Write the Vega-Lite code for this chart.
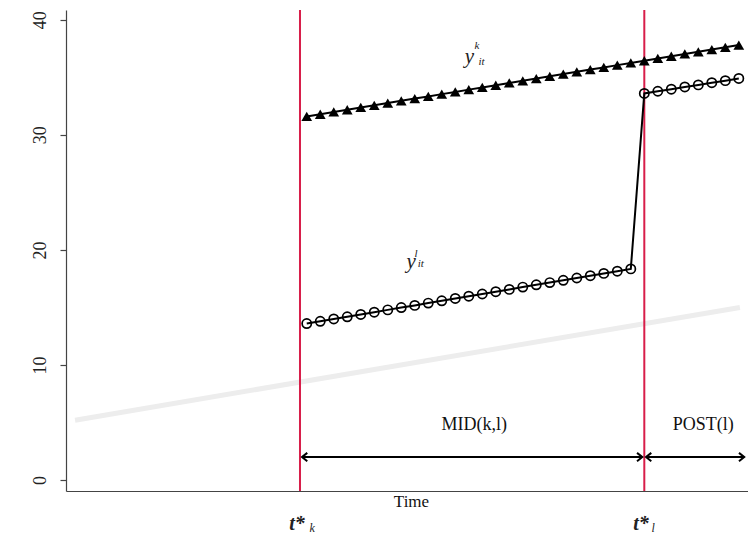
{
  "$schema": "https://vega.github.io/schema/vega-lite/v6.json",
  "width": 682,
  "height": 481,
  "autosize": {"type": "none"},
  "padding": {"left": 66, "top": 10, "right": 0, "bottom": 43},
  "background": "white",
  "config": {"view": {"stroke": null}, "font": "Liberation Serif"},
  "datasets": {
    "k": [
      {"t": 0, "y": 31.6}, {"t": 1, "y": 31.79}, {"t": 2, "y": 31.99}, {"t": 3, "y": 32.18}, {"t": 4, "y": 32.38},
      {"t": 5, "y": 32.57}, {"t": 6, "y": 32.76}, {"t": 7, "y": 32.96}, {"t": 8, "y": 33.15}, {"t": 9, "y": 33.34},
      {"t": 10, "y": 33.54}, {"t": 11, "y": 33.73}, {"t": 12, "y": 33.93}, {"t": 13, "y": 34.12}, {"t": 14, "y": 34.31},
      {"t": 15, "y": 34.51}, {"t": 16, "y": 34.7}, {"t": 17, "y": 34.89}, {"t": 18, "y": 35.09}, {"t": 19, "y": 35.28},
      {"t": 20, "y": 35.48}, {"t": 21, "y": 35.67}, {"t": 22, "y": 35.86}, {"t": 23, "y": 36.06}, {"t": 24, "y": 36.25},
      {"t": 25, "y": 36.44}, {"t": 26, "y": 36.64}, {"t": 27, "y": 36.83}, {"t": 28, "y": 37.03}, {"t": 29, "y": 37.22},
      {"t": 30, "y": 37.41}, {"t": 31, "y": 37.61}, {"t": 32, "y": 37.8}
    ],
    "l": [
      {"t": 0, "y": 13.6}, {"t": 1, "y": 13.8}, {"t": 2, "y": 14.0}, {"t": 3, "y": 14.19}, {"t": 4, "y": 14.39},
      {"t": 5, "y": 14.59}, {"t": 6, "y": 14.79}, {"t": 7, "y": 14.99}, {"t": 8, "y": 15.18}, {"t": 9, "y": 15.38},
      {"t": 10, "y": 15.58}, {"t": 11, "y": 15.78}, {"t": 12, "y": 15.98}, {"t": 13, "y": 16.17}, {"t": 14, "y": 16.37},
      {"t": 15, "y": 16.57}, {"t": 16, "y": 16.77}, {"t": 17, "y": 16.97}, {"t": 18, "y": 17.16}, {"t": 19, "y": 17.36},
      {"t": 20, "y": 17.56}, {"t": 21, "y": 17.76}, {"t": 22, "y": 17.96}, {"t": 23, "y": 18.15}, {"t": 24, "y": 18.35},
      {"t": 25, "y": 33.6}, {"t": 26, "y": 33.79}, {"t": 27, "y": 33.97}, {"t": 28, "y": 34.16}, {"t": 29, "y": 34.34},
      {"t": 30, "y": 34.53}, {"t": 31, "y": 34.71}, {"t": 32, "y": 34.9}
    ]
  },
  "encoding": {
    "x": {"field": "t", "type": "quantitative", "scale": {"domain": [-17.83, 32.68], "nice": false, "zero": false},
      "axis": {"title": "Time", "labels": false, "ticks": false, "grid": false, "domainColor": "#444", "domainWidth": 1.2,
        "titleFont": "Liberation Serif", "titleFontSize": 17, "titleFontWeight": "normal", "titleColor": "#111", "titlePadding": 2, "titleX": 345}},
    "y": {"field": "y", "type": "quantitative", "scale": {"domain": [-0.95, 40.85], "nice": false, "zero": false},
      "axis": {"title": null, "values": [0, 10, 20, 30, 40], "grid": false, "domainColor": "#444", "domainWidth": 1.2,
        "tickColor": "#444", "tickSize": 6, "tickWidth": 1.2, "labelAngle": -90, "labelAlign": "center", "labelBaseline": "bottom",
        "labelPadding": 11, "labelFont": "Liberation Serif", "labelFontSize": 18, "labelColor": "#222"}}
  },
  "layer": [
    {
      "data": {"values": [{"t": -17.16, "y": 5.2}, {"t": 32.08, "y": 15.0}]},
      "mark": {"type": "line", "color": "#ededed", "strokeWidth": 5}
    },
    {
      "data": {"values": [{"t": -0.5}, {"t": 25.0}]},
      "mark": {"type": "rule", "color": "#d81e4a", "strokeWidth": 2},
      "encoding": {"x": {"field": "t", "type": "quantitative"}, "y": null}
    },
    {
      "data": {"name": "k"},
      "mark": {"type": "line", "color": "black", "strokeWidth": 2}
    },
    {
      "data": {"name": "l"},
      "mark": {"type": "line", "color": "black", "strokeWidth": 2}
    },
    {
      "data": {"name": "k"},
      "mark": {"type": "point", "shape": "triangle-up", "filled": true, "color": "black", "size": 115, "opacity": 1}
    },
    {
      "data": {"name": "l"},
      "mark": {"type": "point", "shape": "circle", "filled": false, "color": "black", "strokeWidth": 1.7, "size": 85, "opacity": 1}
    },
    {
      "data": {"values": [{"t": -0.35, "t2": 24.85, "y": 2.0}, {"t": 25.13, "t2": 32.4, "y": 2.0}]},
      "mark": {"type": "rule", "color": "black", "strokeWidth": 2},
      "encoding": {"x": {"field": "t", "type": "quantitative"}, "x2": {"field": "t2"}, "y": {"field": "y", "type": "quantitative"}}
    },
    {
      "data": {"values": [{"t": -0.35, "y": 2.0}, {"t": 25.13, "y": 2.0}]},
      "mark": {"type": "point", "shape": "M1,-0.8L0,0L1,0.8", "filled": false, "color": "black", "strokeWidth": 2, "size": 110, "opacity": 1}
    },
    {
      "data": {"values": [{"t": 24.85, "y": 2.0}, {"t": 32.4, "y": 2.0}]},
      "mark": {"type": "point", "shape": "M-1,-0.8L0,0L-1,0.8", "filled": false, "color": "black", "strokeWidth": 2, "size": 110, "opacity": 1}
    },
    {
      "data": {"values": [{"t": 12.4, "y": 4.78, "label": "MID(k,l)"}, {"t": 29.36, "y": 4.78, "label": "POST(l)"}]},
      "mark": {"type": "text", "font": "Liberation Serif", "fontSize": 18, "color": "#111", "baseline": "middle", "align": "center"},
      "encoding": {"text": {"field": "label"}}
    },
    {
      "data": {"values": [{"t": 12.04, "y": 36.77, "label": "y"}, {"t": 7.73, "y": 18.95, "label": "y"}]},
      "mark": {"type": "text", "font": "Liberation Serif", "fontSize": 21, "fontStyle": "italic", "color": "#222", "baseline": "middle", "align": "center"},
      "encoding": {"text": {"field": "label"}}
    },
    {
      "data": {"values": [{"t": 12.6, "y": 37.72, "label": "k"}, {"t": 12.95, "y": 36.3, "label": "it"}, {"t": 8.1, "y": 19.65, "label": "l"}, {"t": 8.45, "y": 18.75, "label": "it"}]},
      "mark": {"type": "text", "font": "Liberation Serif", "fontSize": 11, "fontStyle": "italic", "color": "#222", "baseline": "middle", "align": "center"},
      "encoding": {"text": {"field": "label"}}
    },
    {
      "data": {"values": [{"t": -0.72, "y": -3.8, "label": "t*"}, {"t": 24.76, "y": -3.8, "label": "t*"}]},
      "mark": {"type": "text", "font": "Liberation Serif", "fontSize": 20, "fontStyle": "italic", "fontWeight": "bold", "color": "#222", "baseline": "middle", "align": "center"},
      "encoding": {"text": {"field": "label"}}
    },
    {
      "data": {"values": [{"t": 0.4, "y": -4.15, "label": "k"}, {"t": 25.65, "y": -4.15, "label": "l"}]},
      "mark": {"type": "text", "font": "Liberation Serif", "fontSize": 12, "fontStyle": "italic", "color": "#222", "baseline": "middle", "align": "center"},
      "encoding": {"text": {"field": "label"}}
    }
  ]
}
